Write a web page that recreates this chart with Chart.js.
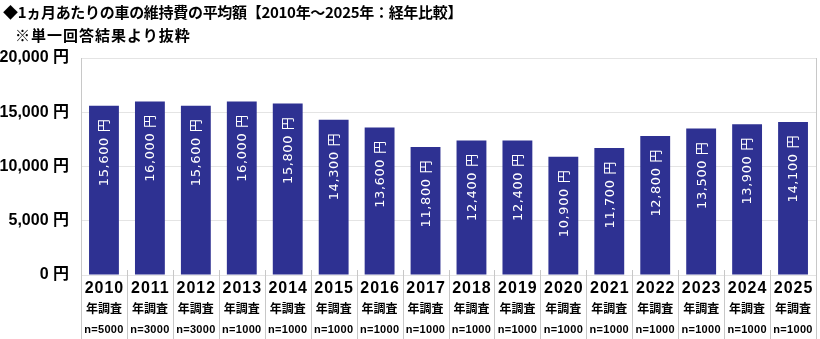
<!DOCTYPE html>
<html>
<head>
<meta charset="utf-8">
<script src="https://cdn.jsdelivr.net/npm/chart.js@4.4.1/dist/chart.umd.min.js"></script>
<style>
  body { margin: 0; background: #fff; }
  #wrap { position: relative; width: 820px; height: 339px; }
  #wrap canvas { position: absolute; left: 0; top: 0; }
  .title { position: absolute; font-family: "Noto Sans CJK JP", sans-serif; font-weight: bold; font-size: 15px; color: #000; white-space: nowrap; letter-spacing: -0.3px; line-height: 1; }
  #t1 { left: 3px; top: 4px; }
  #t2 { left: 15px; top: 27px; letter-spacing: 1px; }
</style>
</head>
<body>
<div id="wrap">
  <canvas id="costChart" width="820" height="339"></canvas>
  <div class="title" id="t1">◆1ヵ月あたりの車の維持費の平均額【2010年～2025年：経年比較】</div>
  <div class="title" id="t2">※単一回答結果より抜粋</div>
</div>
<script>
const years = ['2010', '2011', '2012', '2013', '2014', '2015', '2016', '2017',
               '2018', '2019', '2020', '2021', '2022', '2023', '2024', '2025'];
const sampleSizes = ['n=5000', 'n=3000', 'n=3000', 'n=1000', 'n=1000', 'n=1000', 'n=1000', 'n=1000',
                     'n=1000', 'n=1000', 'n=1000', 'n=1000', 'n=1000', 'n=1000', 'n=1000', 'n=1000'];
const monthlyCost = [15600, 16000, 15600, 16000, 15800, 14300, 13600, 11800,
                     12400, 12400, 10900, 11700, 12800, 13500, 13900, 14100];
const yTicks = [0, 5000, 10000, 15000, 20000];

const yen = v => v.toLocaleString('en-US') + ' 円';

// 棒の中の金額(縦書き)と、下の年・調査・n数の表
const labelsPlugin = {
  id: 'labelsPlugin',
  afterDraw(chart) {
    const ctx = chart.ctx;
    const area = chart.chartArea;
    const xs = chart.scales.x;
    const step = (area.right - area.left) / years.length;

    ctx.save();
    // 区切り線
    ctx.strokeStyle = '#c8c8c8';
    ctx.lineWidth = 1;
    for (let k = 0; k <= years.length; k++) {
      const x = Math.round(area.left + k * step) + 0.5;
      ctx.beginPath();
      ctx.moveTo(x, k === 0 || k === years.length ? area.top : area.bottom - 5);
      ctx.lineTo(x, chart.height);
      ctx.stroke();
    }

    ctx.fillStyle = '#000';
    ctx.textAlign = 'center';
    ctx.textBaseline = 'middle';
    years.forEach((y, i) => {
      const cx = xs.getPixelForValue(i);
      ctx.letterSpacing = '1px';
      ctx.font = 'bold 16px "Liberation Sans", Arial, sans-serif';
      ctx.fillText(y, cx + 0.5, area.bottom + 14);
      ctx.letterSpacing = '0px';
      ctx.font = 'bold 12px "Noto Sans CJK JP", sans-serif';
      ctx.fillText('年調査', cx, area.bottom + 33);
      ctx.letterSpacing = '0.3px';
      ctx.font = 'bold 11px "Liberation Sans", Arial, sans-serif';
      ctx.fillText(sampleSizes[i], cx, area.bottom + 55);
    });

    // 金額ラベル
    const meta = chart.getDatasetMeta(0);
    ctx.fillStyle = '#fff';
    ctx.letterSpacing = '0.6px';
    ctx.font = '13px "DejaVu Sans", "Noto Sans CJK JP", sans-serif';
    ctx.textAlign = 'right';
    ctx.textBaseline = 'middle';
    meta.data.forEach((bar, i) => {
      ctx.save();
      ctx.translate(bar.x + 1, bar.y + 13);
      ctx.rotate(-Math.PI / 2);
      ctx.fillText(yen(monthlyCost[i]), 0, 0);
      ctx.restore();
    });
    ctx.restore();
  }
};

new Chart(document.getElementById('costChart'), {
  type: 'bar',
  data: {
    labels: years,
    datasets: [{
      data: monthlyCost,
      backgroundColor: '#2e3192',
      barPercentage: 0.65,
      categoryPercentage: 1.0
    }]
  },
  options: {
    responsive: false,
    animation: false,
    layout: { padding: { top: 58, bottom: 64, left: 0, right: 4 } },
    plugins: { legend: { display: false }, tooltip: { enabled: false } },
    scales: {
      x: { display: false },
      y: {
        min: 0,
        max: 20000,
        afterBuildTicks: s => { s.ticks = yTicks.map(v => ({ value: v })); },
        afterFit: s => { s.width = 81; },
        ticks: {
          callback: v => yen(v),
          color: '#000',
          padding: 12,
          font: { family: '"Liberation Sans", Arial, "Noto Sans CJK JP", sans-serif', size: 16, weight: 'bold' }
        },
        grid: { color: '#e4e4e4', drawTicks: false },
        border: { color: '#c8c8c8' }
      }
    }
  },
  plugins: [labelsPlugin]
});
</script>
</body>
</html>
